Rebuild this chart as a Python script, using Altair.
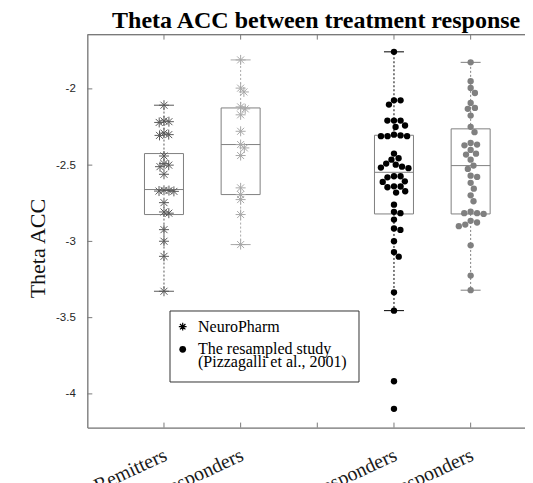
import json
import altair as alt
import pandas as pd

# ---------------- data ----------------
title_text = "Theta ACC between treatment response"
y_title = "Theta ACC"
tick_positions = [1, 2, 3, 4, 5]
tick_labels = ["Remitters", "Non-responders", "", "Responders", "Non-responders"]
y_ticks = [-2, -2.5, -3, -3.5, -4]

group_pos = [1, 2, 4, 5]
group_colors = ["#595959", "#a8a8a8", "#000000", "#808080"]
group_marker = ["star", "star", "dot", "dot"]

g1 = [-2.107, -2.21, -2.215, -2.22, -2.29, -2.30, -2.305, -2.44, -2.49, -2.50, -2.51,
      -2.56, -2.665, -2.667, -2.67, -2.672, -2.746, -2.807, -2.815, -2.923, -2.999,
      -3.098, -3.327]
g2 = [-1.81, -1.995, -2.02, -2.118, -2.131, -2.17, -2.278, -2.365, -2.387, -2.437,
      -2.649, -2.693, -2.726, -2.824, -3.021]
g4 = [-1.757, -2.075, -2.075, -2.103, -2.208, -2.208, -2.208, -2.24, -2.25, -2.30,
      -2.305, -2.31, -2.31, -2.31, -2.424, -2.455, -2.464, -2.49, -2.497, -2.51,
      -2.516, -2.52, -2.573, -2.573, -2.58, -2.606, -2.61, -2.639, -2.64, -2.645,
      -2.671, -2.68, -2.759, -2.806, -2.815, -2.857, -2.915, -2.925, -2.999, -3.07,
      -3.10, -3.334, -3.454, -3.917, -4.098]
g5 = [-1.826, -1.95, -1.994, -2.027, -2.092, -2.125, -2.131, -2.175, -2.249, -2.284,
      -2.355, -2.365, -2.37, -2.40, -2.425, -2.431, -2.464, -2.503, -2.525, -2.569,
      -2.577, -2.616, -2.654, -2.698, -2.737, -2.805, -2.815, -2.815, -2.82, -2.865,
      -2.876, -2.89, -2.9, -3.026, -3.224, -3.32]
groups = [g1, g2, g4, g5]

box_q1 = [-2.824, -2.693, -2.82, -2.82]
box_med = [-2.66, -2.365, -2.547, -2.503]
box_q3 = [-2.424, -2.125, -2.304, -2.262]
whisk_lo = [-3.327, -3.021, -3.454, -3.32]
whisk_hi = [-2.107, -1.81, -1.757, -1.826]

legend_labels = ["NeuroPharm", "The resampled study", "(Pizzagalli et al., 2001)"]

# ---------------- layout ----------------
PAD_L, PAD_T = 79.3, 26.6
W, H = 437.7, 393
XPX = 76.67                      # pixels per x unit
X_DOMAIN = [0, W / XPX]          # plot runs off the right edge like the original
Y_DOMAIN = [-4.221, -1.644]
YPX = H / (Y_DOMAIN[1] - Y_DOMAIN[0])
BOX_HALF = 19.5 / XPX
CAP_HALF = 10 / XPX
AXIS_GRAY = "#7a7a7a"
STAR = "M-1,0L1,0M0,-1L0,1M-0.7,-0.7L0.7,0.7M-0.7,0.7L0.7,-0.7"


def swarm(vals, d):
    order = sorted(range(len(vals)), key=lambda i: -vals[i])
    placed = []
    offs = [0.0] * len(vals)
    for i in order:
        y = vals[i] * YPX
        cands = [0.0]
        for px, py in placed:
            dy = abs(py - y)
            if dy < d:
                dx = (d * d - dy * dy) ** 0.5
                cands += [px + dx, px - dx]
        cands.sort(key=lambda c: (round(abs(c), 6), -c))
        for c in cands:
            if all((c - px) ** 2 + (y - py) ** 2 >= d * d - 1e-6 for px, py in placed):
                offs[i] = c
                break
        placed.append((offs[i], y))
    return offs


rows = []
for gi, vals in enumerate(groups):
    d = 5.0 if group_marker[gi] == "star" else 6.6
    offs = swarm(vals, d)
    for v, o in zip(vals, offs):
        rows.append({"x": group_pos[gi] + o / XPX, "y": v, "color": group_colors[gi],
                     "marker": group_marker[gi]})
pts = pd.DataFrame(rows)

box = pd.DataFrame({
    "x": group_pos,
    "xl": [p - BOX_HALF for p in group_pos],
    "xr": [p + BOX_HALF for p in group_pos],
    "cl": [p - CAP_HALF for p in group_pos],
    "cr": [p + CAP_HALF for p in group_pos],
    "q1": box_q1, "med": box_med, "q3": box_q3, "lo": whisk_lo, "hi": whisk_hi,
    "color": group_colors,
})

xs = alt.Scale(domain=X_DOMAIN, nice=False, zero=False)
ys = alt.Scale(domain=Y_DOMAIN, nice=False, zero=False)

label_expr = json.dumps(tick_labels) + "[datum.value - 1]"
xaxis = alt.Axis(values=tick_positions, labelExpr=label_expr, ticks=False, grid=False,
                 domainColor=AXIS_GRAY, domainWidth=1.3, labelAngle=-25, labelAlign="right",
                 labelBaseline="top", labelFont="Liberation Serif", labelFontSize=20,
                 labelColor="#1a1a1a", labelPadding=17, labelOffset=-3, labelOverlap=False,
                 labelBound=False, labelFlush=False, title=None)
yaxis = alt.Axis(values=y_ticks, labelExpr="'' + datum.value", ticks=False, grid=False,
                 domainColor=AXIS_GRAY, domainWidth=1.3, labelFont="Liberation Sans",
                 labelFontSize=11.5, labelColor="#262626", labelPadding=12,
                 title=y_title, titleFont="Liberation Serif", titleFontSize=22,
                 titleFontWeight="normal", titleColor="#111111", titleX=-50,
                 titleY=H / 2 + 17, titleAngle=-90, titleAlign="center",
                 titleBaseline="middle")


def X(f):
    return alt.X(f, type="quantitative", scale=xs, axis=xaxis)


def Y(f):
    return alt.Y(f, type="quantitative", scale=ys, axis=yaxis)


nocol = alt.Color("color:N", scale=None)

boxes = alt.Chart(box).mark_rect(fillOpacity=0, stroke="#808080", strokeWidth=1).encode(
    x=X("xl"), x2="xr", y=Y("q1"), y2="q3")
medians = alt.Chart(box).mark_rule(stroke="#808080", strokeWidth=1).encode(
    x=X("xl"), x2="xr", y=Y("med"))
wh_up = alt.Chart(box).mark_rule(strokeWidth=1, strokeDash=[2, 2]).encode(
    x=X("x"), y=Y("q3"), y2="hi", color=nocol)
wh_lo = alt.Chart(box).mark_rule(strokeWidth=1, strokeDash=[2, 2]).encode(
    x=X("x"), y=Y("q1"), y2="lo", color=nocol)
cap_hi = alt.Chart(box).mark_rule(strokeWidth=1).encode(
    x=X("cl"), x2="cr", y=Y("hi"), color=nocol)
cap_lo = alt.Chart(box).mark_rule(strokeWidth=1).encode(
    x=X("cl"), x2="cr", y=Y("lo"), color=nocol)

stars = alt.Chart(pts).transform_filter("datum.marker == 'star'").mark_point(
    shape=STAR, filled=False, size=100, strokeWidth=1, opacity=1).encode(
    x=X("x"), y=Y("y"), color=nocol)
dots = alt.Chart(pts).transform_filter("datum.marker == 'dot'").mark_circle(
    size=40, opacity=1).encode(x=X("x"), y=Y("y"), color=nocol)

# top frame line and inward tick marks (MATLAB style box)
one = pd.DataFrame({"a": [0]})
top_line = alt.Chart(one).mark_rule(stroke=AXIS_GRAY, strokeWidth=1.3).encode(
    x=alt.value(0), x2=alt.value(W), y=alt.value(0))
xt = pd.DataFrame({"t": tick_positions})
yt = pd.DataFrame({"t": y_ticks})
xt_bot = alt.Chart(xt).mark_rule(stroke=AXIS_GRAY, strokeWidth=1).encode(
    x=X("t"), y=alt.value(H), y2=alt.value(H - 5))
xt_top = alt.Chart(xt).mark_rule(stroke=AXIS_GRAY, strokeWidth=1).encode(
    x=X("t"), y=alt.value(0), y2=alt.value(5))
yt_left = alt.Chart(yt).mark_rule(stroke=AXIS_GRAY, strokeWidth=1).encode(
    y=Y("t"), x=alt.value(0), x2=alt.value(5))

# legend box
LX0, LX1, LY0, LY1 = 82.7, 271.7, 276.4, 347.4
leg_box = alt.Chart(one).mark_rect(fill="white", stroke="#333333", strokeWidth=1).encode(
    x=alt.value(LX0), x2=alt.value(LX1), y=alt.value(LY0), y2=alt.value(LY1))
leg_star = alt.Chart(one).mark_point(shape=STAR, filled=False, size=60, strokeWidth=1.2,
                                     color="black", opacity=1).encode(
    x=alt.value(LX0 + 12.7), y=alt.value(LY0 + 15.7))
leg_dot = alt.Chart(one).mark_circle(size=45, color="black", opacity=1).encode(
    x=alt.value(LX0 + 12.7), y=alt.value(LY0 + 38.3))
leg_texts = []
for lbl, dy in zip(legend_labels, [15.7, 38.3, 51.0]):
    leg_texts.append(alt.Chart(one).mark_text(
        text=lbl, align="left", baseline="middle", font="Liberation Serif", fontSize=16,
        color="black").encode(x=alt.value(LX0 + 28), y=alt.value(LY0 + dy)))

chart = alt.layer(
    boxes, medians, wh_up, wh_lo, cap_hi, cap_lo, stars, dots,
    top_line, xt_bot, xt_top, yt_left, leg_box, leg_star, leg_dot, *leg_texts
).properties(
    width=W, height=H,
    title=alt.TitleParams(title_text, font="Liberation Serif", fontSize=24,
                          fontWeight="bold", anchor="middle", color="black",
                          baseline="alphabetic", offset=0, dy=PAD_T - 9, dx=10),
    autosize=alt.AutoSizeParams(type="none"),
    padding={"left": PAD_L, "top": PAD_T, "right": 0, "bottom": 60},
).configure_view(strokeWidth=0).configure(background="white")

chart.save("out.html", embed_options={"renderer": "svg", "actions": False})
